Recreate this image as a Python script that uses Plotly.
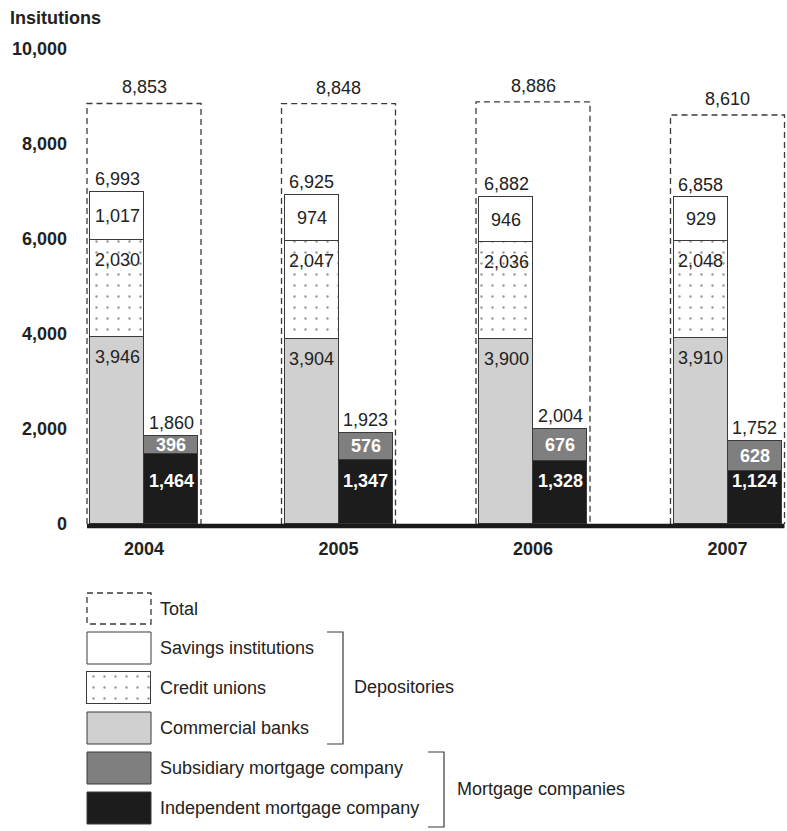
import plotly.graph_objects as go

# ---------------- data ----------------
years = ["2004", "2005", "2006", "2007"]
commercial_banks = [3946, 3904, 3900, 3910]
credit_unions = [2030, 2047, 2036, 2048]
savings_institutions = [1017, 974, 946, 929]
depositories_total = [6993, 6925, 6882, 6858]
independent_mortgage = [1464, 1347, 1328, 1124]
subsidiary_mortgage = [396, 576, 676, 628]
mortgage_total = [1860, 1923, 2004, 1752]
totals = [8853, 8848, 8886, 8610]
y_ticks = [0, 2000, 4000, 6000, 8000, 10000]

# ---------------- styling ----------------
W, H = 787, 831
FONT = "Liberation Sans, Arial, Helvetica, sans-serif"
C_LINE = "#3a3a3a"
C_SAV = "#ffffff"
C_CB = "#d0d0d0"
C_SUB = "#7f7f7f"
C_IND = "#1c1c1c"
TXT = "#222222"
FS = 18

px_per_unit = 194.5
center0_px = 144
plot_left_px = 80
x0 = -(center0_px - plot_left_px) / px_per_unit
x1 = (W - center0_px) / px_per_unit
y_top_px, y_bot_px = 49, 533.5
y_min = -200

bw = 54 / px_per_unit        # single bar width
half_box = 57 / px_per_unit  # half width of dashed total box

xs = list(range(len(years)))
x_dep = [x - bw / 2 for x in xs]
x_mort = [x + bw / 2 for x in xs]

fig = go.Figure()

# dashed total boxes
bx, by = [], []
for x, t in zip(xs, totals):
    bx += [x - half_box, x - half_box, x + half_box, x + half_box, None]
    by += [0, t, t, 0, None]
fig.add_trace(go.Scatter(x=bx, y=by, mode="lines",
                         line=dict(color=C_LINE, width=1.3, dash="6px,4px"),
                         hoverinfo="skip", showlegend=False))

line = dict(color=C_LINE, width=1)
pattern = dict(shape=".", fgcolor="#333333", bgcolor="white", size=11, solidity=0.04)
fig.add_trace(go.Bar(x=x_dep, y=commercial_banks, width=bw,
                     marker=dict(color=C_CB, line=line), showlegend=False))
fig.add_trace(go.Bar(x=x_dep, y=credit_unions, width=bw,
                     marker=dict(color="white", line=line, pattern=pattern),
                     showlegend=False))
fig.add_trace(go.Bar(x=x_dep, y=savings_institutions, width=bw,
                     marker=dict(color=C_SAV, line=line), showlegend=False))
fig.add_trace(go.Bar(x=x_mort, y=independent_mortgage, width=bw,
                     marker=dict(color=C_IND, line=line), showlegend=False))
fig.add_trace(go.Bar(x=x_mort, y=subsidiary_mortgage, width=bw,
                     marker=dict(color=C_SUB, line=line), showlegend=False))

ann = []
def label(x, y, text, yshift=0, color=TXT, bold=False, xref="x", yref="y", xanchor="center"):
    ann.append(dict(x=x, y=y, xref=xref, yref=yref, text=f"<b>{text}</b>" if bold else text,
                    showarrow=False, yshift=yshift, xanchor=xanchor, yanchor="middle",
                    font=dict(family=FONT, size=FS, color=color)))

fmt = lambda v: f"{v:,}"
for i in range(len(years)):
    label(xs[i], totals[i], fmt(totals[i]), yshift=16)
    label(x_dep[i], depositories_total[i], fmt(depositories_total[i]), yshift=13)
    label(x_mort[i], mortgage_total[i], fmt(mortgage_total[i]), yshift=13)
    base_sav = commercial_banks[i] + credit_unions[i]
    label(x_dep[i], base_sav + savings_institutions[i] / 2, fmt(savings_institutions[i]))
    label(x_dep[i], base_sav, fmt(credit_unions[i]), yshift=-20)
    label(x_dep[i], commercial_banks[i], fmt(commercial_banks[i]), yshift=-20)
    label(x_mort[i], independent_mortgage[i] + subsidiary_mortgage[i] / 2,
          fmt(subsidiary_mortgage[i]), color="white", bold=True)
    label(x_mort[i], 900, fmt(independent_mortgage[i]), color="white", bold=True)

# y-axis title
label(8, 18, "Insitutions", bold=True, xref="x2", yref="y2", xanchor="left")

# ---------------- legend (pixel-space axes x2/y2) ----------------
shapes = []
lx0, lx1 = 87, 151
leg_items = [
    ("Total", 593, 624, None),
    ("Savings institutions", 632, 664, C_SAV),
    ("Credit unions", 672, 704, "pattern"),
    ("Commercial banks", 712, 744, C_CB),
    ("Subsidiary mortgage company", 752, 784, C_SUB),
    ("Independent mortgage company", 792, 824, C_IND),
]
for name, ya, yb, col in leg_items:
    if col is None:
        shapes.append(dict(type="rect", xref="x2", yref="y2", x0=lx0, x1=lx1, y0=ya, y1=yb,
                           line=dict(color=C_LINE, width=1.3, dash="6px,4px"), fillcolor="rgba(0,0,0,0)"))
    elif col == "pattern":
        fig.add_trace(go.Bar(x=[(lx0 + lx1) / 2], y=[yb - ya], base=[ya], width=[lx1 - lx0],
                             xaxis="x2", yaxis="y2",
                             marker=dict(color="white", line=line, pattern=pattern),
                             showlegend=False, hoverinfo="skip"))
    else:
        shapes.append(dict(type="rect", xref="x2", yref="y2", x0=lx0, x1=lx1, y0=ya, y1=yb,
                           line=dict(color=C_LINE, width=1), fillcolor=col))
    label(158, (ya + yb) / 2, name, xref="x2", yref="y2", xanchor="left")

shapes.append(dict(type="path", xref="x2", yref="y2", path="M327,632 H343 V744 H327",
                   line=dict(color=C_LINE, width=1.2)))
label(352, 687, "Depositories", xref="x2", yref="y2", xanchor="left")
shapes.append(dict(type="path", xref="x2", yref="y2", path="M428,752 H444 V827 H428",
                   line=dict(color=C_LINE, width=1.2)))
label(455, 789, "Mortgage companies", xref="x2", yref="y2", xanchor="left")

# baseline
shapes.append(dict(type="line", xref="x", yref="y", x0=-half_box, x1=xs[-1] + half_box,
                   y0=-42, y1=-42, line=dict(color="#1a1a1a", width=4.5)))

fig.update_layout(
    width=W, height=H,
    margin=dict(l=0, r=0, t=0, b=0, pad=0, autoexpand=False),
    paper_bgcolor="white", plot_bgcolor="rgba(0,0,0,0)",
    barmode="stack", bargap=0,
    showlegend=False,
    font=dict(family=FONT, size=FS, color=TXT),
    xaxis=dict(domain=[plot_left_px / W, 1], range=[x0, x1],
               tickvals=xs, ticktext=[f"<b>{y}</b>" for y in years],
               showgrid=False, zeroline=False, showline=False, ticks="",
               ticklabelstandoff=2, tickfont=dict(family=FONT, size=FS, color=TXT)),
    yaxis=dict(domain=[1 - y_bot_px / H, 1 - y_top_px / H], range=[y_min, 10000],
               tickvals=y_ticks, ticktext=[f"<b>{v:,}</b>" for v in y_ticks],
               showgrid=False, zeroline=False, showline=False, ticks="",
               ticklabelstandoff=12, tickfont=dict(family=FONT, size=FS, color=TXT)),
    xaxis2=dict(domain=[0, 1], range=[0, W], anchor="y2", visible=False, fixedrange=True),
    yaxis2=dict(domain=[0, 1], range=[H, 0], anchor="x2", visible=False, fixedrange=True),
    shapes=shapes,
    annotations=ann,
)

fig.write_html("out.html", config={"displayModeBar": False},
               post_script="document.body.style.margin='0';document.body.style.padding='0';")
